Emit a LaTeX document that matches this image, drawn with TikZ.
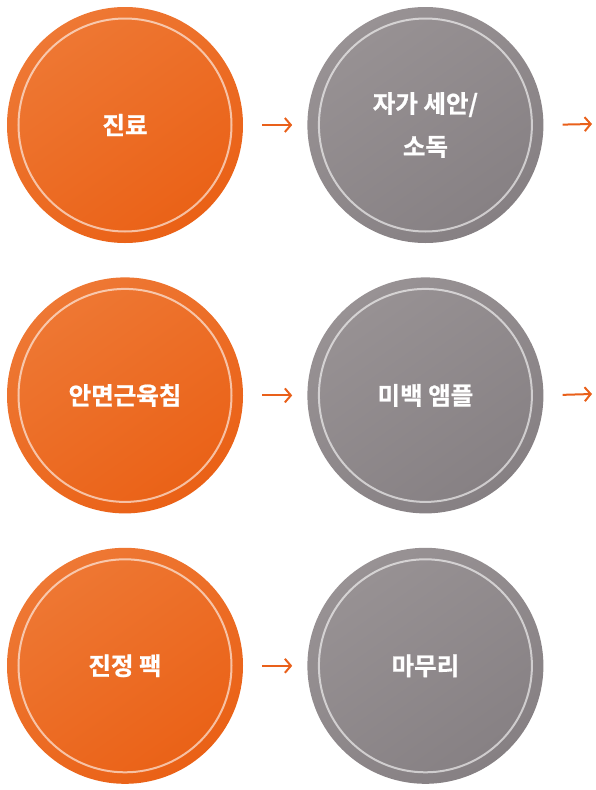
\documentclass[tikz,border=0pt]{standalone}
\usepackage{fontspec}
\newfontfamily\krfont{Noto Sans CJK KR Bold}[FakeBold=0.8]
\usepackage{tikz}
\usetikzlibrary{positioning}
\usetikzlibrary{arrows.meta}
\definecolor{orangeL}{HTML}{EE7834}
\definecolor{orangeD}{HTML}{EA6116}
\definecolor{grayL}{HTML}{989294}
\definecolor{grayD}{HTML}{868083}
\definecolor{arrowc}{HTML}{E9601A}
\tikzset{
stepball/.style={
  circle,
  minimum size=236pt,
  inner sep=0pt,
  text=white,
  align=center,
  font=\krfont\fontsize{24.5}{43}\selectfont,
  path picture={\draw[white,opacity=0.6,line width=2pt]
    (path picture bounding box.center) circle (106.5pt);}
},
hotball/.style={stepball,top color=orangeL,bottom color=orangeD,shading angle=35},
coolball/.style={stepball,top color=grayL,bottom color=grayD,shading angle=35},
nextstep/.style={arrowc,line width=2pt,-{Straight Barb[length=6pt,width=14pt]},
  shorten <=19pt,shorten >=15pt},
}

\begin{document}
\begin{tikzpicture}[x=1pt,y=-1pt]
\useasboundingbox (0,0) rectangle (596,790);
\node[hotball] (step-1-1) at (125,125) {진료};
\node[coolball,right=64pt of step-1-1] (step-1-2) {자가 세안/\\소독};
\node[hotball,below=34pt of step-1-1] (step-2-1) {안면근육침};
\node[coolball,right=64pt of step-2-1] (step-2-2) {미백 앰플};
\node[hotball,below=34pt of step-2-1] (step-3-1) {진정 팩};
\node[coolball,right=64pt of step-3-1] (step-3-2) {마무리};
% the free ends
\coordinate (out-1) at (592,124);
\coordinate (out-2) at (592,394);
% the arrows
\foreach \x in {1,...,3}
{
  \draw[nextstep] (step-\x-1.east) -- (step-\x-2.west);
}
\foreach \x in {1,2}
{
  \draw[nextstep,shorten >=0pt] (step-\x-2.east) -- (out-\x);
}
\end{tikzpicture}
\end{document}
